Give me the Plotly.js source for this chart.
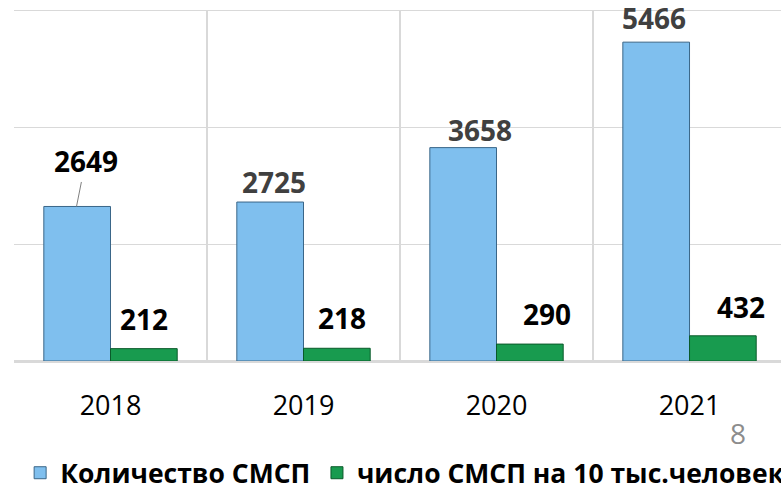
<!DOCTYPE html>
<html>
<head>
<meta charset="utf-8">
<script src="https://cdn.plot.ly/plotly-3.0.1.min.js"></script>
<style>html,body{margin:0;padding:0;background:#fff;overflow:hidden}#chart{width:781px;height:490px}</style>
</head>
<body>
<div id="chart"></div>
<script>
const years = ['2018', '2019', '2020', '2021'];
const smspCount = [2649, 2725, 3658, 5466];
const smspPer10k = [212, 218, 290, 432];
const seriesNames = ['Количество СМСП', 'число СМСП на 10 тыс.человек'];

// label styling (pixel nudges relative to bar tops)
const blueLabelDx = [0, 4, 17, -2];
const blueLabelDy = [0, 20, 18, 24];
const blueLabelColor = ['#000000', '#404040', '#404040', '#404040'];
const greenLabelDx = [0, 5, 17, 18];
const greenLabelDy = [30, 30, 30, 29];

const labelFont = {family: 'Open Sans', size: 28, color: '#000'};
const annotations = [];
years.forEach((yr, i) => {
  if (i === 0) {
    annotations.push({
      x: i, y: smspCount[i], xref: 'x', yref: 'y', xshift: -34,
      text: '<b>' + smspCount[i] + '</b>', showarrow: true, arrowhead: 0,
      arrowwidth: 1, arrowcolor: '#808080', ax: 9, ay: -45, standoff: 0,
      font: Object.assign({}, labelFont, {color: blueLabelColor[i]})
    });
  } else {
    annotations.push({
      x: i, y: smspCount[i], xref: 'x', yref: 'y', xshift: -34 + blueLabelDx[i],
      yshift: blueLabelDy[i], yanchor: 'middle', showarrow: false,
      text: '<b>' + smspCount[i] + '</b>',
      font: Object.assign({}, labelFont, {color: blueLabelColor[i]})
    });
  }
  annotations.push({
    x: i, y: smspPer10k[i], xref: 'x', yref: 'y', xshift: 33 + greenLabelDx[i],
    yshift: greenLabelDy[i], yanchor: 'middle', showarrow: false,
    text: '<b>' + smspPer10k[i] + '</b>', font: labelFont
  });
});
annotations.push({
  xref: 'paper', yref: 'paper', x: 0.944, y: -0.205, xanchor: 'center', yanchor: 'middle',
  text: '8', showarrow: false, font: {family: 'Open Sans', size: 28, color: '#8c8c8c'}
});

const data = [
  {
    type: 'bar', name: seriesNames[0], x: years, y: smspCount,
    marker: {color: '#7FBFEE', line: {color: '#3a6688', width: 1}},
    hoverinfo: 'none'
  },
  {
    type: 'bar', name: seriesNames[1], x: years, y: smspPer10k,
    marker: {color: '#189B4F', line: {color: '#0a5a2a', width: 1}},
    hoverinfo: 'none', legend: 'legend2'
  }
];

const layout = {
  width: 781, height: 490,
  margin: {l: 14, r: 0, t: 11, b: 129, pad: 0, autoexpand: false},
  paper_bgcolor: '#ffffff', plot_bgcolor: '#ffffff',
  barmode: 'group', bargap: 0.309, bargroupgap: 0,
  xaxis: {
    type: 'category', range: [-0.5, 3.474], tickson: 'boundaries',
    showgrid: true, gridcolor: '#d9d9d9', gridwidth: 1.5,
    ticks: '', showline: true, mirror: true, linecolor: '#d9d9d9', linewidth: 1.5,
    zeroline: false,
    tickfont: {family: 'Open Sans', size: 27, color: '#000'},
    ticklabelstandoff: 20, fixedrange: true
  },
  yaxis: {
    range: [0, 6000], dtick: 2000, showgrid: true, gridcolor: '#d9d9d9', gridwidth: 1.5,
    zeroline: true, zerolinecolor: '#d9d9d9', zerolinewidth: 1.5,
    showticklabels: false, ticks: '', showline: false, fixedrange: true
  },
  showlegend: true,
  legend: {
    orientation: 'h', x: 0.008, xanchor: 'left', y: -0.32, yanchor: 'middle',
    font: {family: 'Open Sans', size: 26.5, color: '#000', weight: 'bold'},
    bgcolor: 'rgba(0,0,0,0)', borderwidth: 0
  },
  legend2: {
    orientation: 'h', x: 0.395, xanchor: 'left', y: -0.32, yanchor: 'middle',
    font: {family: 'Open Sans', size: 26.5, color: '#000', weight: 'bold'},
    bgcolor: 'rgba(0,0,0,0)', borderwidth: 0
  },
  annotations: annotations
};

Plotly.newPlot('chart', data, layout, {staticPlot: true, displayModeBar: false});
</script>
</body>
</html>
